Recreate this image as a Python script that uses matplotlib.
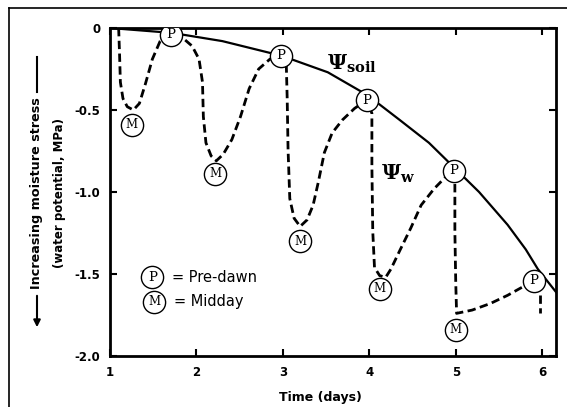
import matplotlib
matplotlib.use("Agg")
import matplotlib.pyplot as plt
from matplotlib.lines import Line2D

# ---- data ----
soil_days = [1.0, 1.72, 2.30, 2.99, 3.52, 3.98, 4.35, 4.69, 4.98, 5.27, 5.60, 5.81, 5.95, 6.16]
soil_psi = [0.0, -0.03, -0.08, -0.17, -0.27, -0.41, -0.56, -0.70, -0.85, -1.00, -1.20, -1.35, -1.47, -1.61]

w_days = [1.10, 1.11, 1.12, 1.15, 1.20, 1.27, 1.34, 1.41, 1.49, 1.58, 1.65, 1.71,
          1.84, 1.95, 2.03, 2.07, 2.08, 2.11, 2.17, 2.23, 2.31, 2.41, 2.51, 2.61, 2.72, 2.85, 2.99,
          3.04, 3.05, 3.06, 3.08, 3.13, 3.20, 3.28, 3.35, 3.41, 3.48, 3.57, 3.69, 3.83, 3.97,
          4.03, 4.03, 4.04, 4.06, 4.12, 4.19, 4.25, 4.35, 4.48, 4.60, 4.75, 4.88, 4.98,
          4.99, 4.99, 5.00, 5.01, 5.19, 5.40, 5.60, 5.77, 5.90]
w_psi = [0.0, -0.15, -0.33, -0.43, -0.48, -0.50, -0.46, -0.34, -0.19, -0.08, -0.04, -0.03,
         -0.06, -0.11, -0.19, -0.33, -0.54, -0.70, -0.78, -0.81, -0.77, -0.68, -0.54, -0.37, -0.25, -0.19, -0.17,
         -0.23, -0.43, -0.74, -1.04, -1.16, -1.21, -1.17, -1.08, -0.94, -0.76, -0.64, -0.56, -0.49, -0.44,
         -0.52, -0.84, -1.24, -1.46, -1.51, -1.52, -1.47, -1.36, -1.22, -1.08, -0.98, -0.91, -0.87,
         -0.96, -1.24, -1.55, -1.74, -1.72, -1.68, -1.63, -1.58, -1.54]
tail_days = [5.98, 5.98]
tail_psi = [-1.63, -1.74]

predawn_days = [1.70, 2.98, 3.97, 4.98, 5.90]
predawn_psi = [-0.04, -0.17, -0.44, -0.87, -1.54]
midday_days = [1.25, 2.22, 3.20, 4.12, 5.00]
midday_psi = [-0.59, -0.89, -1.30, -1.59, -1.84]

x_ticks = [1, 2, 3, 4, 5, 6]
y_ticks = [0, -0.5, -1.0, -1.5, -2.0]
y_ticklabels = ["0", "-0.5", "-1.0", "-1.5", "-2.0"]

W, H = 567, 407
plt.rcParams["mathtext.fontset"] = "dejavuserif"
fig = plt.figure(figsize=(W / 100, H / 100), dpi=100)
ax = fig.add_axes([110 / W, 1 - 356 / H, (556 - 110) / W, (356 - 28) / H])
ax.set_xlim(1, 6.16)
ax.set_ylim(-2.0, 0)

ax.plot(soil_days, soil_psi, color="black", lw=1.6, zorder=3)
ax.plot(w_days, w_psi, color="black", lw=2.0, ls=(0, (3.0, 1.6)), zorder=3)
ax.plot(tail_days, tail_psi, color="black", lw=2.0, ls=(0, (3.0, 1.6)), zorder=3)

mk = dict(marker="o", ms=16, mfc="white", mec="black", mew=1.0, ls="none", zorder=5)
ax.plot(predawn_days, predawn_psi, **mk)
ax.plot(midday_days, midday_psi, **mk)
for x, y in zip(predawn_days, predawn_psi):
    ax.text(x, y, "P", ha="center", va="center", fontsize=9.5, family="DejaVu Serif", zorder=6)
for x, y in zip(midday_days, midday_psi):
    ax.text(x, y, "M", ha="center", va="center", fontsize=8.5, family="DejaVu Serif", zorder=6)

# legend drawn inside plot
ax.plot([1.49], [-1.52], **mk)
ax.plot([1.51], [-1.67], **mk)
ax.text(1.49, -1.52, "P", ha="center", va="center", fontsize=9.5, family="DejaVu Serif", zorder=6)
ax.text(1.51, -1.67, "M", ha="center", va="center", fontsize=8.5, family="DejaVu Serif", zorder=6)
ax.text(1.72, -1.52, "= Pre-dawn", ha="left", va="center", fontsize=10.5)
ax.text(1.74, -1.67, "= Midday", ha="left", va="center", fontsize=10.5)

# psi labels
ax.text(3.51, -0.22, r"$\mathbf{\Psi}_{\mathbf{soil}}$", fontsize=15, ha="left", va="center")
ax.text(4.13, -0.89, r"$\mathbf{\Psi}_{\mathbf{w}}$", fontsize=15, ha="left", va="center")

ax.set_xticks(x_ticks)
ax.set_xticklabels([str(t) for t in x_ticks], fontweight="bold", fontsize=8.5)
ax.set_yticks(y_ticks)
ax.set_yticklabels(y_ticklabels, fontweight="bold", fontsize=8.5)
ax.tick_params(direction="in", length=5, width=1.5, top=True, right=True, pad=7)
for s in ax.spines.values():
    s.set_linewidth(2.0)

fig.text(320 / W, 1 - 397 / H, "Time (days)", ha="center", va="center",
         fontweight="bold", fontsize=9)

# y labels (two lines), with arrow
fig.text(37 / W, 1 - 193 / H, "Increasing moisture stress", rotation=90, ha="center",
         va="center", fontweight="bold", fontsize=9.2)
fig.text(60 / W, 1 - 193 / H, "(water potential, MPa)", rotation=90, ha="center",
         va="center", fontweight="bold", fontsize=8.5)
fig.add_artist(Line2D([37 / W, 37 / W], [1 - 57 / H, 1 - 92 / H], color="black", lw=1.5,
                      transform=fig.transFigure))
fig.patches.append(matplotlib.patches.FancyArrowPatch((37 / W, 1 - 293 / H), (37 / W, 1 - 330 / H),
                   transform=fig.transFigure, arrowstyle="-|>", mutation_scale=10,
                   color="black", lw=1.5))

# figure frame (top and left)
fig.add_artist(Line2D([9 / W, 9 / W], [0, 1 - 8 / H], color="black", lw=1.2, transform=fig.transFigure))
fig.add_artist(Line2D([9 / W, 1], [1 - 8 / H, 1 - 8 / H], color="black", lw=1.2, transform=fig.transFigure))

fig.savefig("out.png", dpi=100)
